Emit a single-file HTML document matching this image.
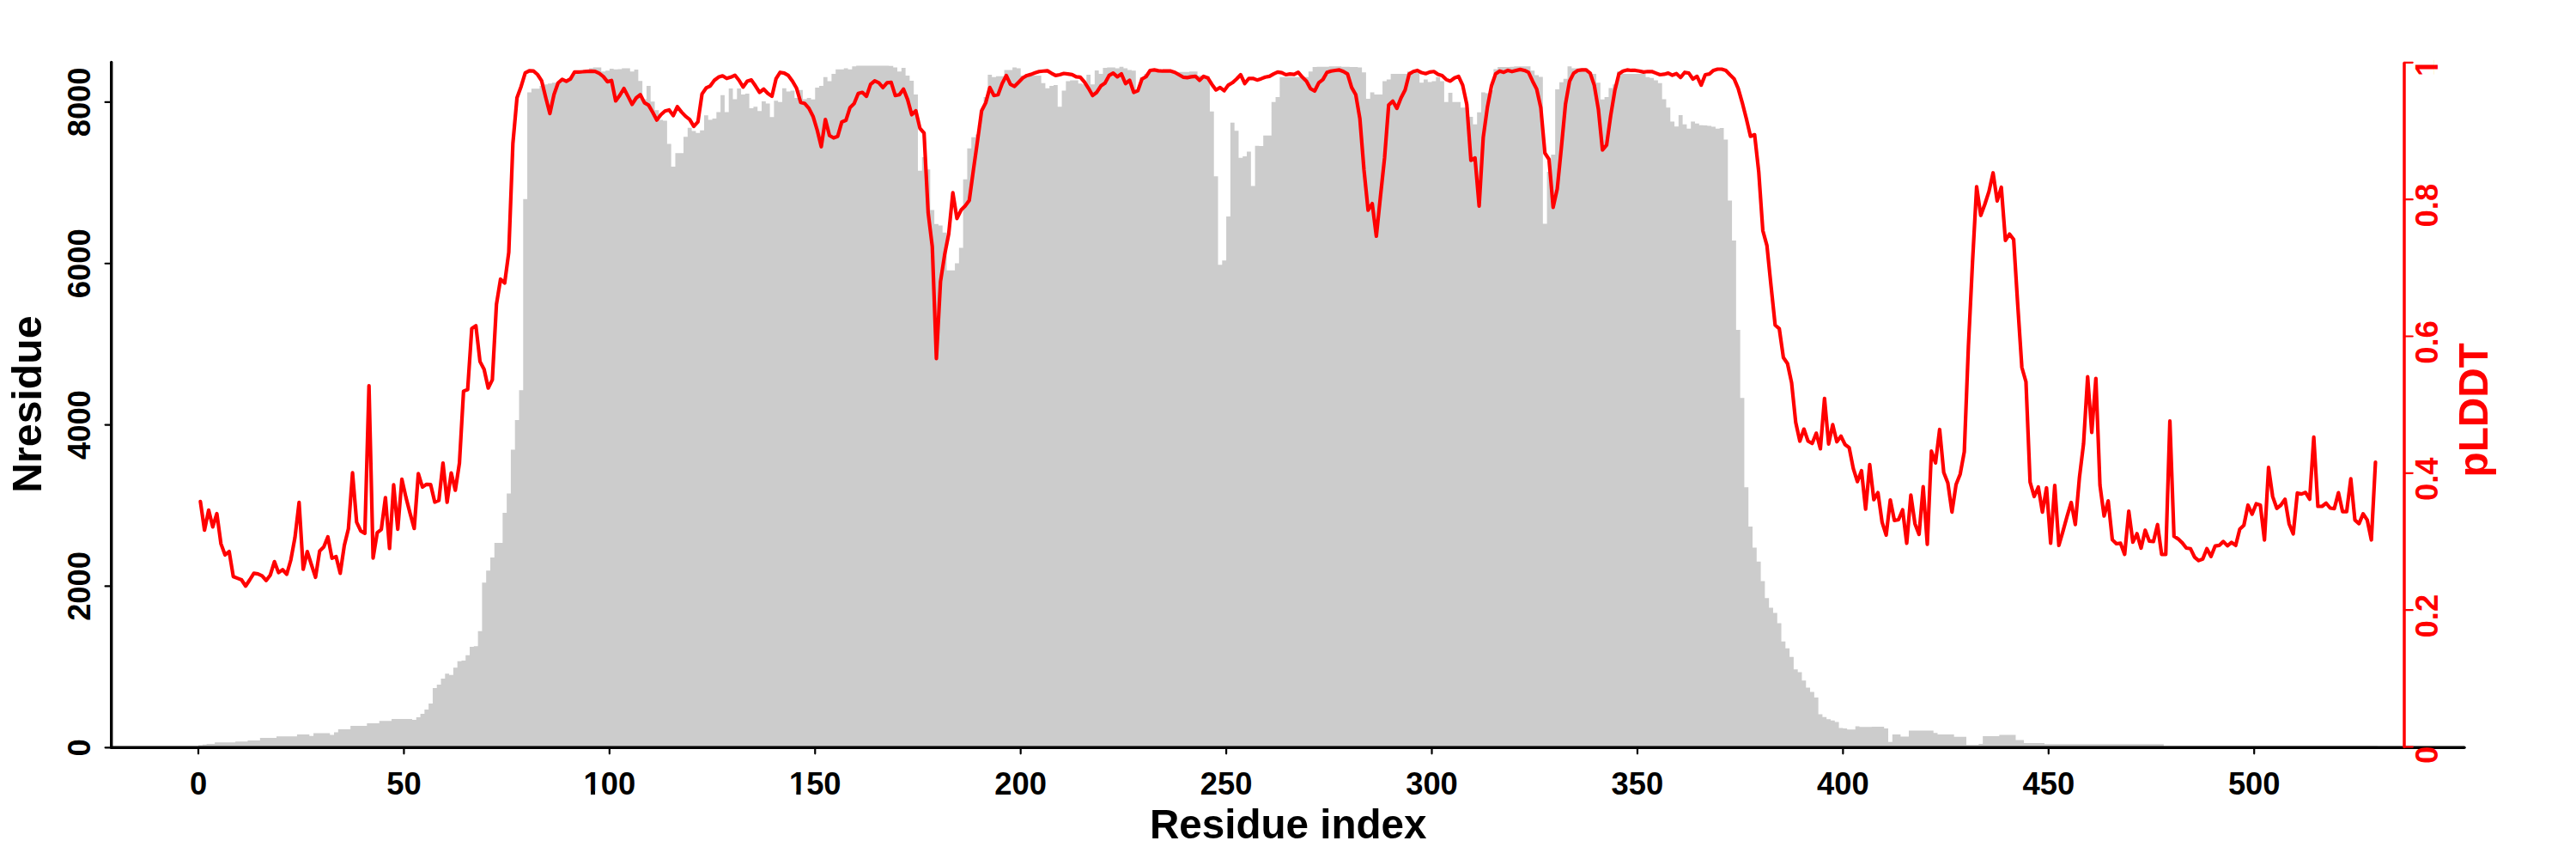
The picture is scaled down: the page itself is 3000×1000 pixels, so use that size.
<!DOCTYPE html>
<html><head><meta charset="utf-8"><title>Nresidue / pLDDT</title>
<style>
html,body{margin:0;padding:0;background:#fff;width:3000px;height:1000px;overflow:hidden}
svg{display:block}
text{font-family:"Liberation Sans",Arial,sans-serif;font-weight:bold}
.tl{font-size:36.35px;fill:#000}
.tr{font-size:36.35px;fill:#f00}
.tt{font-size:49px}
</style></head><body>
<svg width="3000" height="1000" viewBox="0 0 3000 1000">
<rect width="3000" height="1000" fill="#fff"/>
<path d="M231.00 870.30 L231.00 867.40 L235.79 867.40 L235.79 866.80 L240.58 866.80 L240.58 866.00 L245.37 866.00 L245.37 866.00 L250.15 866.00 L250.15 864.30 L254.94 864.30 L254.94 864.30 L259.73 864.30 L259.73 864.30 L264.52 864.30 L264.52 864.30 L269.31 864.30 L269.31 864.30 L274.10 864.30 L274.10 863.30 L278.88 863.30 L278.88 863.30 L283.67 863.30 L283.67 863.30 L288.46 863.30 L288.46 861.90 L293.25 861.90 L293.25 861.90 L298.04 861.90 L298.04 861.90 L302.83 861.90 L302.83 859.00 L307.61 859.00 L307.61 859.00 L312.40 859.00 L312.40 859.00 L317.19 859.00 L317.19 859.00 L321.98 859.00 L321.98 857.30 L326.77 857.30 L326.77 857.30 L331.56 857.30 L331.56 857.30 L336.34 857.30 L336.34 857.30 L341.13 857.30 L341.13 857.30 L345.92 857.30 L345.92 854.90 L350.71 854.90 L350.71 854.90 L355.50 854.90 L355.50 854.90 L360.29 854.90 L360.29 856.70 L365.08 856.70 L365.08 853.50 L369.86 853.50 L369.86 853.50 L374.65 853.50 L374.65 853.50 L379.44 853.50 L379.44 853.50 L384.23 853.50 L384.23 855.50 L389.02 855.50 L389.02 852.60 L393.81 852.60 L393.81 849.10 L398.59 849.10 L398.59 849.10 L403.38 849.10 L403.38 849.10 L408.17 849.10 L408.17 845.00 L412.96 845.00 L412.96 845.00 L417.75 845.00 L417.75 845.00 L422.54 845.00 L422.54 845.00 L427.32 845.00 L427.32 842.10 L432.11 842.10 L432.11 842.10 L436.90 842.10 L436.90 842.10 L441.69 842.10 L441.69 839.20 L446.48 839.20 L446.48 839.20 L451.27 839.20 L451.27 839.20 L456.05 839.20 L456.05 836.90 L460.84 836.90 L460.84 836.90 L465.63 836.90 L465.63 836.90 L470.42 836.90 L470.42 836.90 L475.21 836.90 L475.21 836.90 L480.00 836.90 L480.00 838.00 L484.79 838.00 L484.79 835.10 L489.57 835.10 L489.57 831.10 L494.36 831.10 L494.36 826.00 L499.15 826.00 L499.15 819.00 L503.94 819.00 L503.94 801.12 L508.73 801.12 L508.73 796.93 L513.52 796.93 L513.52 789.94 L518.30 789.94 L518.30 784.36 L523.09 784.36 L523.09 785.75 L527.88 785.75 L527.88 777.37 L532.67 777.37 L532.67 769.83 L537.46 769.83 L537.46 768.99 L542.25 768.99 L542.25 762.85 L547.03 762.85 L547.03 753.07 L551.82 753.07 L551.82 752.23 L556.61 752.23 L556.61 734.64 L561.40 734.64 L561.40 678.21 L566.19 678.21 L566.19 664.25 L570.98 664.25 L570.98 648.88 L575.76 648.88 L575.76 632.12 L580.55 632.12 L580.55 632.12 L585.34 632.12 L585.34 597.00 L590.13 597.00 L590.13 574.60 L594.92 574.60 L594.92 523.40 L599.71 523.40 L599.71 488.90 L604.50 488.90 L604.50 454.30 L609.28 454.30 L609.28 231.80 L614.07 231.80 L614.07 107.49 L618.86 107.49 L618.86 103.20 L623.65 103.20 L623.65 103.20 L628.44 103.20 L628.44 100.04 L633.23 100.04 L633.23 98.18 L638.01 98.18 L638.01 97.24 L642.80 97.24 L642.80 96.31 L647.59 96.31 L647.59 95.38 L652.38 95.38 L652.38 93.52 L657.17 93.52 L657.17 92.00 L661.96 92.00 L661.96 91.50 L666.74 91.50 L666.74 86.07 L671.53 86.07 L671.53 82.35 L676.32 82.35 L676.32 81.42 L681.11 81.42 L681.11 81.42 L685.90 81.42 L685.90 79.55 L690.69 79.55 L690.69 78.62 L695.47 78.62 L695.47 78.62 L700.26 78.62 L700.26 83.28 L705.05 83.28 L705.05 82.35 L709.84 82.35 L709.84 80.11 L714.63 80.11 L714.63 80.86 L719.42 80.86 L719.42 80.48 L724.21 80.48 L724.21 79.55 L728.99 79.55 L728.99 79.55 L733.78 79.55 L733.78 83.28 L738.57 83.28 L738.57 80.90 L743.36 80.90 L743.36 94.22 L748.15 94.22 L748.15 115.41 L752.94 115.41 L752.94 99.97 L757.72 99.97 L757.72 118.13 L762.51 118.13 L762.51 128.27 L767.30 128.27 L767.30 139.62 L772.09 139.62 L772.09 140.38 L776.88 140.38 L776.88 167.62 L781.67 167.62 L781.67 194.11 L786.45 194.11 L786.45 178.22 L791.24 178.22 L791.24 178.22 L796.03 178.22 L796.03 159.30 L800.82 159.30 L800.82 148.70 L805.61 148.70 L805.61 152.49 L810.40 152.49 L810.40 154.76 L815.18 154.76 L815.18 151.73 L819.97 151.73 L819.97 134.33 L824.76 134.33 L824.76 139.62 L829.55 139.62 L829.55 138.11 L834.34 138.11 L834.34 130.54 L839.13 130.54 L839.13 110.87 L843.92 110.87 L843.92 130.54 L848.70 130.54 L848.70 103.00 L853.49 103.00 L853.49 115.41 L858.28 115.41 L858.28 103.00 L863.07 103.00 L863.07 110.11 L867.86 110.11 L867.86 109.05 L872.65 109.05 L872.65 126.11 L877.43 126.11 L877.43 124.25 L882.22 124.25 L882.22 129.27 L887.01 129.27 L887.01 118.10 L891.80 118.10 L891.80 120.52 L896.59 120.52 L896.59 136.35 L901.38 136.35 L901.38 117.36 L906.16 117.36 L906.16 118.66 L910.95 118.66 L910.95 102.83 L915.74 102.83 L915.74 106.55 L920.53 106.55 L920.53 105.62 L925.32 105.62 L925.32 114.00 L930.11 114.00 L930.11 104.69 L934.89 104.69 L934.89 115.49 L939.68 115.49 L939.68 114.00 L944.47 114.00 L944.47 115.87 L949.26 115.87 L949.26 101.90 L954.05 101.90 L954.05 100.04 L958.84 100.04 L958.84 89.80 L963.63 89.80 L963.63 94.45 L968.41 94.45 L968.41 86.07 L973.20 86.07 L973.20 80.86 L977.99 80.86 L977.99 80.86 L982.78 80.86 L982.78 79.55 L987.57 79.55 L987.57 80.86 L992.36 80.86 L992.36 77.13 L997.14 77.13 L997.14 76.39 L1001.93 76.39 L1001.93 76.39 L1006.72 76.39 L1006.72 76.39 L1011.51 76.39 L1011.51 76.39 L1016.30 76.39 L1016.30 76.39 L1021.09 76.39 L1021.09 76.39 L1025.87 76.39 L1025.87 76.39 L1030.66 76.39 L1030.66 76.39 L1035.45 76.39 L1035.45 76.76 L1040.24 76.76 L1040.24 78.62 L1045.03 78.62 L1045.03 83.28 L1049.82 83.28 L1049.82 78.99 L1054.60 78.99 L1054.60 87.93 L1059.39 87.93 L1059.39 94.08 L1064.18 94.08 L1064.18 109.91 L1068.97 109.91 L1068.97 198.73 L1073.76 198.73 L1073.76 182.91 L1078.55 182.91 L1078.55 197.28 L1083.34 197.28 L1083.34 244.55 L1088.12 244.55 L1088.12 260.86 L1092.91 260.86 L1092.91 262.49 L1097.70 262.49 L1097.70 270.64 L1102.49 270.64 L1102.49 314.66 L1107.28 314.66 L1107.28 314.66 L1112.07 314.66 L1112.07 306.50 L1116.85 306.50 L1116.85 288.57 L1121.64 288.57 L1121.64 208.69 L1126.43 208.69 L1126.43 172.82 L1131.22 172.82 L1131.22 159.78 L1136.01 159.78 L1136.01 156.52 L1140.80 156.52 L1140.80 128.90 L1145.58 128.90 L1145.58 113.07 L1150.37 113.07 L1150.37 87.00 L1155.16 87.00 L1155.16 89.80 L1159.95 89.80 L1159.95 88.86 L1164.74 88.86 L1164.74 88.86 L1169.53 88.86 L1169.53 81.42 L1174.31 81.42 L1174.31 81.42 L1179.10 81.42 L1179.10 78.62 L1183.89 78.62 L1183.89 79.55 L1188.68 79.55 L1188.68 87.93 L1193.47 87.93 L1193.47 87.93 L1198.26 87.93 L1198.26 87.93 L1203.05 87.93 L1203.05 87.93 L1207.83 87.93 L1207.83 87.93 L1212.62 87.93 L1212.62 96.87 L1217.41 96.87 L1217.41 102.83 L1222.20 102.83 L1222.20 100.04 L1226.99 100.04 L1226.99 99.11 L1231.78 99.11 L1231.78 124.25 L1236.56 124.25 L1236.56 105.62 L1241.35 105.62 L1241.35 94.45 L1246.14 94.45 L1246.14 93.52 L1250.93 93.52 L1250.93 93.52 L1255.72 93.52 L1255.72 97.24 L1260.51 97.24 L1260.51 98.18 L1265.29 98.18 L1265.29 87.00 L1270.08 87.00 L1270.08 98.18 L1274.87 98.18 L1274.87 81.97 L1279.66 81.97 L1279.66 86.07 L1284.45 86.07 L1284.45 78.99 L1289.24 78.99 L1289.24 78.62 L1294.02 78.62 L1294.02 78.62 L1298.81 78.62 L1298.81 79.55 L1303.60 79.55 L1303.60 77.69 L1308.39 77.69 L1308.39 79.55 L1313.18 79.55 L1313.18 81.42 L1317.97 81.42 L1317.97 82.35 L1322.76 82.35 L1322.76 105.62 L1327.54 105.62 L1327.54 89.80 L1332.33 89.80 L1332.33 86.07 L1337.12 86.07 L1337.12 83.28 L1341.91 83.28 L1341.91 83.65 L1346.70 83.65 L1346.70 83.65 L1351.49 83.65 L1351.49 83.65 L1356.27 83.65 L1356.27 83.65 L1361.06 83.65 L1361.06 83.65 L1365.85 83.65 L1365.85 83.65 L1370.64 83.65 L1370.64 83.65 L1375.43 83.65 L1375.43 83.65 L1380.22 83.65 L1380.22 83.84 L1385.00 83.84 L1385.00 83.28 L1389.79 83.28 L1389.79 83.28 L1394.58 83.28 L1394.58 87.93 L1399.37 87.93 L1399.37 88.86 L1404.16 88.86 L1404.16 88.86 L1408.95 88.86 L1408.95 129.83 L1413.73 129.83 L1413.73 205.25 L1418.52 205.25 L1418.52 308.13 L1423.31 308.13 L1423.31 303.24 L1428.10 303.24 L1428.10 251.93 L1432.89 251.93 L1432.89 142.87 L1437.68 142.87 L1437.68 152.18 L1442.47 152.18 L1442.47 183.84 L1447.25 183.84 L1447.25 181.97 L1452.04 181.97 L1452.04 176.39 L1456.83 176.39 L1456.83 216.51 L1461.62 216.51 L1461.62 169.87 L1466.41 169.87 L1466.41 170.09 L1471.20 170.09 L1471.20 157.87 L1475.98 157.87 L1475.98 157.87 L1480.77 157.87 L1480.77 118.66 L1485.56 118.66 L1485.56 113.07 L1490.35 113.07 L1490.35 89.80 L1495.14 89.80 L1495.14 89.80 L1499.93 89.80 L1499.93 89.80 L1504.71 89.80 L1504.71 89.80 L1509.50 89.80 L1509.50 89.80 L1514.29 89.80 L1514.29 89.80 L1519.08 89.80 L1519.08 89.80 L1523.87 89.80 L1523.87 83.28 L1528.66 83.28 L1528.66 78.06 L1533.44 78.06 L1533.44 77.69 L1538.23 77.69 L1538.23 77.69 L1543.02 77.69 L1543.02 77.69 L1547.81 77.69 L1547.81 77.13 L1552.60 77.13 L1552.60 77.13 L1557.39 77.13 L1557.39 77.13 L1562.18 77.13 L1562.18 77.69 L1566.96 77.69 L1566.96 77.69 L1571.75 77.69 L1571.75 78.06 L1576.54 78.06 L1576.54 78.06 L1581.33 78.06 L1581.33 78.62 L1586.12 78.62 L1586.12 84.21 L1590.91 84.21 L1590.91 114.93 L1595.69 114.93 L1595.69 107.49 L1600.48 107.49 L1600.48 109.91 L1605.27 109.91 L1605.27 109.91 L1610.06 109.91 L1610.06 94.45 L1614.85 94.45 L1614.85 92.59 L1619.64 92.59 L1619.64 86.07 L1624.42 86.07 L1624.42 86.07 L1629.21 86.07 L1629.21 86.07 L1634.00 86.07 L1634.00 86.07 L1638.79 86.07 L1638.79 83.28 L1643.58 83.28 L1643.58 83.28 L1648.37 83.28 L1648.37 83.28 L1653.15 83.28 L1653.15 96.31 L1657.94 96.31 L1657.94 92.59 L1662.73 92.59 L1662.73 95.38 L1667.52 95.38 L1667.52 94.45 L1672.31 94.45 L1672.31 89.80 L1677.10 89.80 L1677.10 94.45 L1681.89 94.45 L1681.89 118.66 L1686.67 118.66 L1686.67 108.04 L1691.46 108.04 L1691.46 118.66 L1696.25 118.66 L1696.25 118.66 L1701.04 118.66 L1701.04 125.18 L1705.83 125.18 L1705.83 125.18 L1710.62 125.18 L1710.62 135.98 L1715.40 135.98 L1715.40 144.73 L1720.19 144.73 L1720.19 130.76 L1724.98 130.76 L1724.98 107.49 L1729.77 107.49 L1729.77 108.42 L1734.56 108.42 L1734.56 104.69 L1739.35 104.69 L1739.35 80.48 L1744.13 80.48 L1744.13 78.06 L1748.92 78.06 L1748.92 78.06 L1753.71 78.06 L1753.71 78.06 L1758.50 78.06 L1758.50 77.69 L1763.29 77.69 L1763.29 77.13 L1768.08 77.13 L1768.08 77.13 L1772.86 77.13 L1772.86 77.13 L1777.65 77.13 L1777.65 77.13 L1782.44 77.13 L1782.44 82.35 L1787.23 82.35 L1787.23 87.56 L1792.02 87.56 L1792.02 89.42 L1796.81 89.42 L1796.81 260.40 L1801.60 260.40 L1801.60 200.00 L1806.38 200.00 L1806.38 180.00 L1811.17 180.00 L1811.17 104.00 L1815.96 104.00 L1815.96 95.75 L1820.75 95.75 L1820.75 91.66 L1825.54 91.66 L1825.54 77.13 L1830.33 77.13 L1830.33 79.55 L1835.11 79.55 L1835.11 79.55 L1839.90 79.55 L1839.90 79.55 L1844.69 79.55 L1844.69 79.55 L1849.48 79.55 L1849.48 84.21 L1854.27 84.21 L1854.27 86.07 L1859.06 86.07 L1859.06 96.31 L1863.84 96.31 L1863.84 115.87 L1868.63 115.87 L1868.63 113.07 L1873.42 113.07 L1873.42 102.46 L1878.21 102.46 L1878.21 98.18 L1883.00 98.18 L1883.00 83.28 L1887.79 83.28 L1887.79 86.07 L1892.57 86.07 L1892.57 86.07 L1897.36 86.07 L1897.36 86.07 L1902.15 86.07 L1902.15 86.07 L1906.94 86.07 L1906.94 86.07 L1911.73 86.07 L1911.73 86.07 L1916.52 86.07 L1916.52 89.80 L1921.31 89.80 L1921.31 90.73 L1926.09 90.73 L1926.09 93.52 L1930.88 93.52 L1930.88 96.87 L1935.67 96.87 L1935.67 115.49 L1940.46 115.49 L1940.46 125.18 L1945.25 125.18 L1945.25 141.56 L1950.04 141.56 L1950.04 147.15 L1954.82 147.15 L1954.82 134.12 L1959.61 134.12 L1959.61 144.73 L1964.40 144.73 L1964.40 149.76 L1969.19 149.76 L1969.19 141.56 L1973.98 141.56 L1973.98 143.80 L1978.77 143.80 L1978.77 145.66 L1983.55 145.66 L1983.55 146.03 L1988.34 146.03 L1988.34 146.59 L1993.13 146.59 L1993.13 147.52 L1997.92 147.52 L1997.92 149.76 L2002.71 149.76 L2002.71 149.01 L2007.50 149.01 L2007.50 162.42 L2012.28 162.42 L2012.28 233.50 L2017.07 233.50 L2017.07 280.00 L2021.86 280.00 L2021.86 383.90 L2026.65 383.90 L2026.65 463.20 L2031.44 463.20 L2031.44 567.20 L2036.23 567.20 L2036.23 613.04 L2041.02 613.04 L2041.02 637.50 L2045.80 637.50 L2045.80 653.80 L2050.59 653.80 L2050.59 676.62 L2055.38 676.62 L2055.38 696.19 L2060.17 696.19 L2060.17 707.60 L2064.96 707.60 L2064.96 713.47 L2069.75 713.47 L2069.75 725.53 L2074.53 725.53 L2074.53 746.72 L2079.32 746.72 L2079.32 754.87 L2084.11 754.87 L2084.11 764.66 L2088.90 764.66 L2088.90 779.33 L2093.69 779.33 L2093.69 782.59 L2098.48 782.59 L2098.48 792.37 L2103.26 792.37 L2103.26 800.52 L2108.05 800.52 L2108.05 805.41 L2112.84 805.41 L2112.84 811.93 L2117.63 811.93 L2117.63 831.50 L2122.42 831.50 L2122.42 834.76 L2127.21 834.76 L2127.21 837.37 L2131.99 837.37 L2131.99 838.67 L2136.78 838.67 L2136.78 840.40 L2141.57 840.40 L2141.57 847.50 L2146.36 847.50 L2146.36 848.00 L2151.15 848.00 L2151.15 849.20 L2155.94 849.20 L2155.94 849.20 L2160.73 849.20 L2160.73 845.50 L2165.51 845.50 L2165.51 846.30 L2170.30 846.30 L2170.30 846.30 L2175.09 846.30 L2175.09 846.30 L2179.88 846.30 L2179.88 846.10 L2184.67 846.10 L2184.67 846.10 L2189.46 846.10 L2189.46 846.10 L2194.24 846.10 L2194.24 848.00 L2199.03 848.00 L2199.03 863.80 L2203.82 863.80 L2203.82 855.00 L2208.61 855.00 L2208.61 855.00 L2213.40 855.00 L2213.40 857.40 L2218.19 857.40 L2218.19 857.40 L2222.97 857.40 L2222.97 850.40 L2227.76 850.40 L2227.76 850.40 L2232.55 850.40 L2232.55 850.40 L2237.34 850.40 L2237.34 850.40 L2242.13 850.40 L2242.13 850.40 L2246.92 850.40 L2246.92 850.40 L2251.70 850.40 L2251.70 853.30 L2256.49 853.30 L2256.49 855.00 L2261.28 855.00 L2261.28 855.00 L2266.07 855.00 L2266.07 855.00 L2270.86 855.00 L2270.86 855.00 L2275.65 855.00 L2275.65 857.70 L2280.44 857.70 L2280.44 857.70 L2285.22 857.70 L2285.22 857.70 L2290.01 857.70 L2290.01 867.30 L2294.80 867.30 L2294.80 867.30 L2299.59 867.30 L2299.59 867.30 L2304.38 867.30 L2304.38 866.10 L2309.17 866.10 L2309.17 857.00 L2313.95 857.00 L2313.95 857.00 L2318.74 857.00 L2318.74 857.00 L2323.53 857.00 L2323.53 857.00 L2328.32 857.00 L2328.32 855.40 L2333.11 855.40 L2333.11 855.40 L2337.90 855.40 L2337.90 855.40 L2342.68 855.40 L2342.68 855.40 L2347.47 855.40 L2347.47 861.40 L2352.26 861.40 L2352.26 861.40 L2357.05 861.40 L2357.05 865.00 L2361.84 865.00 L2361.84 865.00 L2366.63 865.00 L2366.63 865.00 L2371.41 865.00 L2371.41 865.00 L2376.20 865.00 L2376.20 865.00 L2380.99 865.00 L2380.99 866.30 L2385.78 866.30 L2385.78 866.30 L2390.57 866.30 L2390.57 866.30 L2395.36 866.30 L2395.36 866.30 L2400.15 866.30 L2400.15 866.30 L2404.93 866.30 L2404.93 866.30 L2409.72 866.30 L2409.72 866.30 L2414.51 866.30 L2414.51 866.30 L2419.30 866.30 L2419.30 866.30 L2424.09 866.30 L2424.09 866.30 L2428.88 866.30 L2428.88 866.30 L2433.66 866.30 L2433.66 866.30 L2438.45 866.30 L2438.45 866.30 L2443.24 866.30 L2443.24 866.30 L2448.03 866.30 L2448.03 866.30 L2452.82 866.30 L2452.82 866.30 L2457.61 866.30 L2457.61 866.30 L2462.39 866.30 L2462.39 866.30 L2467.18 866.30 L2467.18 866.30 L2471.97 866.30 L2471.97 866.30 L2476.76 866.30 L2476.76 866.30 L2481.55 866.30 L2481.55 866.30 L2486.34 866.30 L2486.34 866.30 L2491.12 866.30 L2491.12 866.30 L2495.91 866.30 L2495.91 866.30 L2500.70 866.30 L2500.70 866.30 L2505.49 866.30 L2505.49 866.30 L2510.28 866.30 L2510.28 866.30 L2515.07 866.30 L2515.07 866.30 L2519.86 866.30 L2519.86 868.50 L2524.64 868.50 L2524.64 868.50 L2529.43 868.50 L2529.43 868.50 L2534.22 868.50 L2534.22 868.50 L2539.01 868.50 L2539.01 868.50 L2543.80 868.50 L2543.80 868.50 L2548.59 868.50 L2548.59 868.50 L2553.37 868.50 L2553.37 868.50 L2558.16 868.50 L2558.16 868.50 L2562.95 868.50 L2562.95 868.50 L2567.74 868.50 L2567.74 868.50 L2572.53 868.50 L2572.53 868.50 L2577.32 868.50 L2577.32 868.50 L2582.10 868.50 L2582.10 868.50 L2586.89 868.50 L2586.89 868.50 L2591.68 868.50 L2591.68 868.50 L2596.47 868.50 L2596.47 868.50 L2601.26 868.50 L2601.26 868.50 L2606.05 868.50 L2606.05 868.50 L2610.83 868.50 L2610.83 868.50 L2615.62 868.50 L2615.62 868.50 L2620.41 868.50 L2620.41 868.50 L2625.20 868.50 L2625.20 868.50 L2629.99 868.50 L2629.99 868.50 L2634.78 868.50 L2634.78 868.50 L2639.57 868.50 L2639.57 868.50 L2644.35 868.50 L2644.35 868.50 L2649.14 868.50 L2649.14 868.50 L2653.93 868.50 L2653.93 868.50 L2658.72 868.50 L2658.72 868.50 L2663.51 868.50 L2663.51 868.50 L2668.30 868.50 L2668.30 868.50 L2673.08 868.50 L2673.08 868.50 L2677.87 868.50 L2677.87 868.50 L2682.66 868.50 L2682.66 868.50 L2687.45 868.50 L2687.45 868.50 L2692.24 868.50 L2692.24 868.50 L2697.03 868.50 L2697.03 868.50 L2701.81 868.50 L2701.81 868.50 L2706.60 868.50 L2706.60 868.50 L2711.39 868.50 L2711.39 868.50 L2716.18 868.50 L2716.18 868.50 L2720.97 868.50 L2720.97 868.50 L2725.76 868.50 L2725.76 868.50 L2730.54 868.50 L2730.54 868.50 L2735.33 868.50 L2735.33 868.50 L2740.12 868.50 L2740.12 868.50 L2744.91 868.50 L2744.91 868.50 L2749.70 868.50 L2749.70 868.50 L2754.49 868.50 L2754.49 868.50 L2759.28 868.50 L2759.28 868.50 L2764.06 868.50 L2764.06 868.50 L2768.85 868.50 L2768.85 870.30 Z" fill="#cccccc"/>
<polyline points="233.39,583.95 238.18,617.09 242.97,593.82 247.76,613.37 252.55,597.91 257.34,633.11 262.12,645.96 266.91,642.05 271.70,671.28 276.49,673.15 281.28,675.01 286.07,682.27 290.86,675.01 295.64,667.37 300.43,668.12 305.22,670.35 310.01,675.75 314.80,669.42 319.59,653.78 324.37,666.63 329.16,663.28 333.95,668.49 338.74,651.73 343.53,625.66 348.32,584.88 353.10,662.72 357.89,642.05 362.68,657.32 367.47,672.03 372.26,641.49 377.05,636.83 381.83,624.92 386.62,649.87 391.41,648.01 396.20,667.37 400.99,634.97 405.78,615.42 410.56,550.43 415.35,607.97 420.14,618.21 424.93,620.82 429.72,449.05 434.51,649.68 439.30,620.07 444.08,616.35 448.87,579.29 453.66,638.51 458.45,564.39 463.24,616.16 468.03,557.88 472.81,579.11 477.60,597.73 482.39,615.23 487.18,551.36 491.97,567.00 496.76,563.84 501.54,564.21 506.33,584.51 511.12,582.46 515.91,538.99 520.70,584.69 525.49,550.54 530.27,570.65 535.06,539.18 539.85,455.38 544.64,453.52 549.43,382.45 554.22,379.12 559.01,420.88 563.79,429.95 568.58,451.74 573.37,442.06 578.16,354.31 582.95,324.96 587.74,329.50 592.52,293.80 597.31,167.00 602.10,113.76 606.89,100.73 611.68,84.90 616.47,82.29 621.25,82.57 626.04,86.76 630.83,94.21 635.62,113.76 640.41,132.10 645.20,110.04 649.98,96.54 654.77,92.35 659.56,94.67 664.35,91.88 669.14,83.78 673.93,83.78 678.72,83.50 683.50,83.04 688.29,82.85 693.08,83.04 697.87,85.36 702.66,89.09 707.45,95.14 712.23,93.74 717.02,117.49 721.81,110.97 726.60,103.05 731.39,112.14 736.18,121.45 740.96,114.00 745.75,110.28 750.54,119.59 755.33,122.38 760.12,130.76 764.91,139.70 769.69,133.56 774.48,129.27 779.27,127.97 784.06,134.49 788.85,124.25 793.64,130.39 798.43,135.42 803.21,139.14 808.00,147.15 812.79,141.94 817.58,109.35 822.37,102.46 827.16,100.04 831.94,93.52 836.73,89.80 841.52,88.31 846.31,91.28 851.10,89.80 855.89,87.56 860.67,93.52 865.46,101.34 870.25,94.45 875.04,93.15 879.83,100.04 884.62,107.49 889.40,103.76 894.19,108.79 898.98,112.14 903.77,91.66 908.56,84.21 913.35,85.14 918.14,87.93 922.92,94.45 927.71,102.83 932.50,119.22 937.29,120.52 942.08,126.11 946.87,135.42 951.65,151.25 956.44,170.80 961.23,139.14 966.02,157.77 970.81,160.56 975.60,158.70 980.38,141.94 985.17,140.07 989.96,125.18 994.75,120.52 999.54,108.79 1004.33,107.49 1009.11,112.14 1013.90,98.18 1018.69,94.08 1023.48,96.31 1028.27,101.90 1033.06,96.31 1037.85,95.75 1042.63,111.21 1047.42,110.28 1052.21,103.76 1057.00,115.87 1061.79,133.56 1066.58,128.90 1071.36,149.39 1076.15,154.97 1080.94,247.82 1085.73,286.94 1090.52,417.36 1095.31,327.70 1100.09,296.72 1104.88,272.27 1109.67,224.34 1114.46,254.34 1119.25,244.55 1124.04,239.66 1128.82,233.14 1133.61,198.00 1138.40,164.00 1143.19,129.00 1147.98,119.59 1152.77,101.90 1157.56,111.21 1162.34,110.28 1167.13,97.24 1171.92,87.93 1176.71,98.18 1181.50,100.60 1186.29,95.75 1191.07,90.73 1195.86,87.93 1200.65,86.63 1205.44,84.77 1210.23,83.28 1215.02,82.72 1219.80,82.35 1224.59,85.33 1229.38,87.93 1234.17,87.00 1238.96,85.51 1243.75,86.07 1248.53,86.82 1253.32,89.42 1258.11,89.80 1262.90,95.38 1267.69,102.83 1272.48,111.21 1277.27,107.49 1282.05,100.04 1286.84,96.69 1291.63,87.93 1296.42,85.14 1301.21,89.42 1306.00,86.07 1310.78,97.24 1315.57,93.52 1320.36,107.49 1325.15,105.62 1329.94,92.03 1334.73,89.24 1339.51,81.97 1344.30,81.42 1349.09,82.35 1353.88,82.72 1358.67,82.72 1363.46,82.72 1368.24,84.21 1373.03,87.00 1377.82,89.80 1382.61,90.35 1387.40,89.42 1392.19,88.86 1396.98,93.52 1401.76,88.86 1406.55,90.73 1411.34,98.18 1416.13,104.69 1420.92,101.90 1425.71,105.62 1430.49,99.11 1435.28,96.31 1440.07,92.03 1444.86,87.00 1449.65,97.24 1454.44,91.28 1459.22,91.28 1464.01,93.15 1468.80,91.66 1473.59,89.80 1478.38,88.86 1483.17,86.07 1487.95,83.84 1492.74,84.58 1497.53,87.00 1502.32,86.07 1507.11,86.63 1511.90,84.21 1516.69,89.80 1521.47,94.45 1526.26,103.20 1531.05,106.00 1535.84,96.31 1540.63,92.59 1545.42,84.21 1550.20,82.72 1554.99,81.97 1559.78,81.42 1564.57,83.28 1569.36,86.07 1574.15,101.90 1578.93,110.28 1583.72,138.21 1588.51,198.00 1593.30,244.70 1598.09,237.00 1602.88,275.00 1607.66,228.70 1612.45,184.00 1617.24,122.38 1622.03,117.73 1626.82,126.11 1631.61,114.00 1636.40,104.69 1641.18,86.07 1645.97,83.28 1650.76,81.97 1655.55,84.58 1660.34,85.70 1665.13,83.84 1669.91,83.28 1674.70,86.44 1679.49,87.93 1684.28,92.59 1689.07,94.45 1693.86,90.73 1698.64,88.86 1703.43,99.11 1708.22,121.45 1713.01,186.63 1717.80,183.84 1722.59,239.80 1727.37,160.00 1732.16,125.18 1736.95,100.04 1741.74,86.07 1746.53,82.72 1751.32,84.21 1756.11,81.97 1760.89,83.28 1765.68,81.97 1770.47,80.86 1775.26,81.97 1780.05,84.21 1784.84,94.45 1789.62,103.76 1794.41,125.18 1799.20,178.25 1803.99,185.50 1808.78,241.40 1813.57,219.90 1818.35,172.00 1823.14,121.45 1827.93,94.45 1832.72,85.14 1837.51,81.97 1842.30,81.42 1847.08,81.42 1851.87,85.14 1856.66,99.11 1861.45,127.04 1866.24,174.53 1871.03,168.94 1875.82,134.49 1880.60,105.62 1885.39,86.07 1890.18,82.72 1894.97,81.42 1899.76,81.97 1904.55,81.97 1909.33,82.72 1914.12,83.84 1918.91,83.28 1923.70,83.28 1928.49,85.14 1933.28,87.00 1938.06,86.44 1942.85,85.14 1947.64,87.56 1952.43,85.70 1957.22,90.17 1962.01,84.21 1966.79,85.14 1971.58,92.03 1976.37,88.86 1981.16,99.11 1985.95,87.00 1990.74,86.07 1995.53,81.97 2000.31,80.48 2005.10,80.48 2009.89,81.97 2014.68,87.00 2019.47,91.66 2024.26,102.83 2029.04,119.59 2033.83,138.21 2038.62,158.70 2043.41,156.83 2048.20,199.66 2052.99,268.45 2057.77,285.91 2062.56,333.06 2067.35,378.47 2072.14,382.66 2076.93,416.31 2081.72,423.30 2086.50,445.64 2091.29,491.73 2096.08,513.52 2100.87,499.55 2105.66,513.52 2110.45,516.31 2115.24,504.30 2120.02,522.46 2124.81,463.80 2129.60,516.87 2134.39,494.39 2139.18,514.32 2143.97,507.80 2148.75,517.49 2153.54,521.21 2158.33,545.42 2163.12,560.69 2167.91,548.03 2172.70,592.72 2177.48,540.95 2182.27,581.73 2187.06,573.54 2191.85,607.80 2196.64,622.89 2201.43,582.00 2206.21,605.94 2211.00,605.01 2215.79,593.46 2220.58,632.40 2225.37,576.33 2230.16,609.66 2234.95,622.14 2239.73,566.65 2244.52,633.60 2249.31,525.12 2254.10,538.90 2258.89,499.98 2263.68,550.07 2268.46,562.18 2273.25,596.07 2278.04,564.04 2282.83,551.94 2287.62,525.87 2292.41,402.80 2297.19,305.20 2301.98,217.26 2306.77,250.79 2311.56,237.75 2316.35,222.85 2321.14,201.24 2325.92,234.02 2330.71,218.00 2335.50,279.85 2340.29,272.40 2345.08,278.73 2349.87,355.11 2354.66,427.76 2359.44,444.53 2364.23,561.25 2369.02,578.01 2373.81,567.02 2378.60,596.07 2383.39,567.95 2388.17,632.40 2392.96,565.16 2397.75,635.00 2402.54,618.40 2407.33,601.00 2412.12,584.90 2416.90,610.60 2421.69,556.00 2426.48,516.80 2431.27,438.60 2436.06,503.40 2440.85,440.50 2445.63,565.00 2450.42,600.70 2455.21,583.10 2460.00,628.30 2464.79,633.00 2469.58,632.40 2474.37,645.40 2479.15,595.10 2483.94,631.14 2488.73,621.30 2493.52,638.10 2498.31,617.21 2503.10,629.93 2507.88,630.38 2512.67,610.70 2517.46,645.52 2522.25,645.52 2527.04,490.20 2531.83,624.33 2536.61,627.35 2541.40,631.89 2546.19,637.95 2550.98,638.70 2555.77,648.54 2560.56,652.63 2565.34,650.81 2570.13,638.70 2574.92,647.79 2579.71,635.68 2584.50,634.92 2589.29,630.38 2594.08,635.37 2598.86,631.44 2603.65,634.92 2608.44,616.00 2613.23,611.46 2618.02,588.00 2622.81,598.60 2627.59,586.49 2632.38,588.00 2637.17,628.56 2641.96,544.20 2646.75,578.16 2651.54,591.78 2656.32,588.00 2661.11,581.19 2665.90,609.95 2670.69,621.45 2675.48,573.92 2680.27,575.14 2685.05,573.32 2689.84,581.19 2694.63,508.80 2699.42,589.51 2704.21,589.51 2709.00,585.73 2713.79,591.48 2718.57,592.09 2723.36,573.62 2728.15,595.57 2732.94,595.57 2737.73,557.40 2742.52,605.41 2747.30,609.64 2752.09,598.14 2756.88,605.41 2761.67,628.56 2766.46,538.00" fill="none" stroke="#ff0000" stroke-width="4.2" stroke-linejoin="round" stroke-linecap="round"/>
<line x1="129.7" y1="72.4" x2="129.7" y2="870.3" stroke="#000" stroke-width="3.4" stroke-linecap="round"/>
<line x1="129.8" y1="870.3" x2="2869.9" y2="870.3" stroke="#000" stroke-width="3.6" stroke-linecap="round"/>
<line x1="122.6" y1="870.30" x2="130" y2="870.30" stroke="#000" stroke-width="2.2" stroke-linecap="round"/>
<text transform="translate(105.1,870.30) rotate(-90) scale(1,1.02)" text-anchor="middle" class="tl">0</text>
<line x1="122.6" y1="682.45" x2="130" y2="682.45" stroke="#000" stroke-width="2.2" stroke-linecap="round"/>
<text transform="translate(105.1,682.45) rotate(-90) scale(1,1.02)" text-anchor="middle" class="tl">2000</text>
<line x1="122.6" y1="494.60" x2="130" y2="494.60" stroke="#000" stroke-width="2.2" stroke-linecap="round"/>
<text transform="translate(105.1,494.60) rotate(-90) scale(1,1.02)" text-anchor="middle" class="tl">4000</text>
<line x1="122.6" y1="306.75" x2="130" y2="306.75" stroke="#000" stroke-width="2.2" stroke-linecap="round"/>
<text transform="translate(105.1,306.75) rotate(-90) scale(1,1.02)" text-anchor="middle" class="tl">6000</text>
<line x1="122.6" y1="118.90" x2="130" y2="118.90" stroke="#000" stroke-width="2.2" stroke-linecap="round"/>
<text transform="translate(105.1,118.90) rotate(-90) scale(1,1.02)" text-anchor="middle" class="tl">8000</text>
<line x1="231.00" y1="870.3" x2="231.00" y2="877.3" stroke="#000" stroke-width="2.2" stroke-linecap="round"/>
<g><text transform="translate(231.00,924.7) scale(1,1.02)" text-anchor="middle" class="tl">0</text></g>
<line x1="470.42" y1="870.3" x2="470.42" y2="877.3" stroke="#000" stroke-width="2.2" stroke-linecap="round"/>
<g><text transform="translate(470.42,924.7) scale(1,1.02)" text-anchor="middle" class="tl">50</text></g>
<line x1="709.84" y1="870.3" x2="709.84" y2="877.3" stroke="#000" stroke-width="2.2" stroke-linecap="round"/>
<clipPath id="c100"><path clip-rule="evenodd" d="M0 0H3000V1000H0ZM680.51 920.77H687.95V926.5H680.51ZM693.04 920.77H699.72V926.5H693.04Z"/></clipPath>
<g clip-path="url(#c100)"><text transform="translate(709.84,924.7) scale(1,1.02)" text-anchor="middle" class="tl">100</text></g>
<line x1="949.26" y1="870.3" x2="949.26" y2="877.3" stroke="#000" stroke-width="2.2" stroke-linecap="round"/>
<clipPath id="c150"><path clip-rule="evenodd" d="M0 0H3000V1000H0ZM919.93 920.77H927.37V926.5H919.93ZM932.46 920.77H939.14V926.5H932.46Z"/></clipPath>
<g clip-path="url(#c150)"><text transform="translate(949.26,924.7) scale(1,1.02)" text-anchor="middle" class="tl">150</text></g>
<line x1="1188.68" y1="870.3" x2="1188.68" y2="877.3" stroke="#000" stroke-width="2.2" stroke-linecap="round"/>
<g><text transform="translate(1188.68,924.7) scale(1,1.02)" text-anchor="middle" class="tl">200</text></g>
<line x1="1428.10" y1="870.3" x2="1428.10" y2="877.3" stroke="#000" stroke-width="2.2" stroke-linecap="round"/>
<g><text transform="translate(1428.10,924.7) scale(1,1.02)" text-anchor="middle" class="tl">250</text></g>
<line x1="1667.52" y1="870.3" x2="1667.52" y2="877.3" stroke="#000" stroke-width="2.2" stroke-linecap="round"/>
<g><text transform="translate(1667.52,924.7) scale(1,1.02)" text-anchor="middle" class="tl">300</text></g>
<line x1="1906.94" y1="870.3" x2="1906.94" y2="877.3" stroke="#000" stroke-width="2.2" stroke-linecap="round"/>
<g><text transform="translate(1906.94,924.7) scale(1,1.02)" text-anchor="middle" class="tl">350</text></g>
<line x1="2146.36" y1="870.3" x2="2146.36" y2="877.3" stroke="#000" stroke-width="2.2" stroke-linecap="round"/>
<g><text transform="translate(2146.36,924.7) scale(1,1.02)" text-anchor="middle" class="tl">400</text></g>
<line x1="2385.78" y1="870.3" x2="2385.78" y2="877.3" stroke="#000" stroke-width="2.2" stroke-linecap="round"/>
<g><text transform="translate(2385.78,924.7) scale(1,1.02)" text-anchor="middle" class="tl">450</text></g>
<line x1="2625.20" y1="870.3" x2="2625.20" y2="877.3" stroke="#000" stroke-width="2.2" stroke-linecap="round"/>
<g><text transform="translate(2625.20,924.7) scale(1,1.02)" text-anchor="middle" class="tl">500</text></g>
<line x1="2800" y1="73.6" x2="2800" y2="869.5" stroke="#f00" stroke-width="3.5" stroke-linecap="round"/>
<line x1="2800" y1="869.50" x2="2809.7" y2="869.50" stroke="#f00" stroke-width="2.2" stroke-linecap="round"/>
<g><text transform="translate(2838.8,878.90) rotate(-90) scale(1,1.02)" text-anchor="middle" class="tr">0</text></g>
<line x1="2800" y1="710.16" x2="2809.7" y2="710.16" stroke="#f00" stroke-width="2.2" stroke-linecap="round"/>
<g><text transform="translate(2838.8,717.16) rotate(-90) scale(1,1.02)" text-anchor="middle" class="tr">0.2</text></g>
<line x1="2800" y1="550.82" x2="2809.7" y2="550.82" stroke="#f00" stroke-width="2.2" stroke-linecap="round"/>
<g><text transform="translate(2838.8,557.82) rotate(-90) scale(1,1.02)" text-anchor="middle" class="tr">0.4</text></g>
<line x1="2800" y1="391.48" x2="2809.7" y2="391.48" stroke="#f00" stroke-width="2.2" stroke-linecap="round"/>
<g><text transform="translate(2838.8,398.48) rotate(-90) scale(1,1.02)" text-anchor="middle" class="tr">0.6</text></g>
<line x1="2800" y1="232.14" x2="2809.7" y2="232.14" stroke="#f00" stroke-width="2.2" stroke-linecap="round"/>
<g><text transform="translate(2838.8,239.14) rotate(-90) scale(1,1.02)" text-anchor="middle" class="tr">0.8</text></g>
<line x1="2800" y1="72.80" x2="2809.7" y2="72.80" stroke="#f00" stroke-width="2.2" stroke-linecap="round"/>
<clipPath id="cr1"><path clip-rule="evenodd" d="M0 0H3000V1000H0ZM2834.87 80.47H2841V87.22H2834.87ZM2834.87 69.10H2841V75.39H2834.87Z"/></clipPath>
<g clip-path="url(#cr1)"><text transform="translate(2838.8,78.80) rotate(-90) scale(1,1.02)" text-anchor="middle" class="tr">1</text></g>
<text transform="translate(1500.2,975.8) scale(0.971,1)" text-anchor="middle" class="tt">Residue index</text>
<text transform="translate(48.3,470.6) rotate(-90) scale(0.984,1)" text-anchor="middle" class="tt">Nresidue</text>
<text transform="translate(2896.7,477.3) rotate(-90) scale(0.973,1)" text-anchor="middle" class="tt" fill="#f00">pLDDT</text>
</svg>
</body></html>
